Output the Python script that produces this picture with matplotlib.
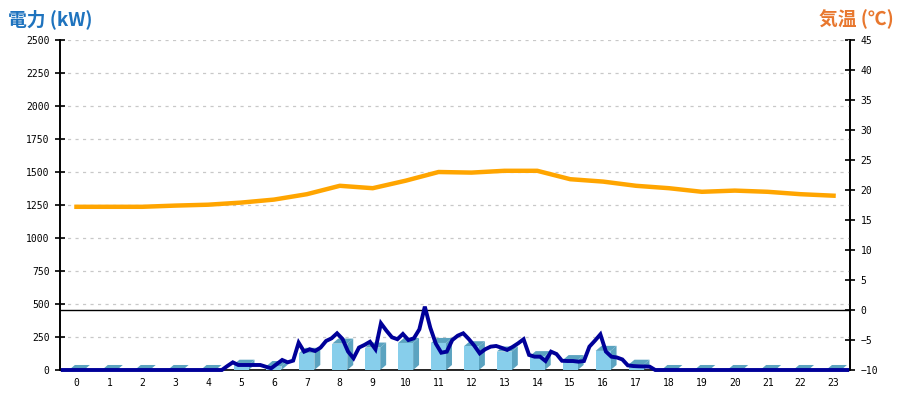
import matplotlib
matplotlib.use("Agg")
import matplotlib.pyplot as plt
from matplotlib.patches import Polygon, Rectangle

plt.rcParams['font.family'] = ['DejaVu Sans Mono', 'Noto Sans CJK JP']

hours = [str(h) for h in range(24)]

# hourly bar values (kW)
bar_kw = [0, 0, 0, 0, 0, 40, 30, 130, 200, 170, 205, 205,
          180, 140, 105, 75, 145, 40, 0, 0, 0, 0, 0, 0]

# hourly temperature (deg C)
temp_c = [17.2, 17.2, 17.2, 17.4, 17.55, 17.9, 18.4, 19.3, 20.7, 20.3, 21.55, 23.0,
          22.9, 23.2, 23.2, 21.8, 21.4, 20.7, 20.3, 19.7, 19.9, 19.7, 19.3, 19.05]

# 10-minute power (kW), 144 points
power_kw = [0] * 30 + [
    30, 58, 38, 38, 38, 38, 38, 25, 13, 45, 76, 58,
    71, 207, 139, 157, 144, 170, 220, 240, 278, 235, 140, 89,
    170, 190, 214, 157, 354, 298, 248, 233, 273, 227, 240, 308,
    480, 320, 200, 131, 139, 227, 260, 278, 235, 185, 126, 157,
    177, 182, 168, 152, 175, 202, 233, 114, 101, 101, 68, 139,
    121, 70, 68, 68, 63, 68, 177, 222, 270, 140, 101, 95,
    80, 35, 30, 28, 27, 25] + [0] * 36

left_ticks = list(range(0, 2501, 250))
right_ticks = list(range(-10, 46, 5))

fig = plt.figure(figsize=(9, 4), dpi=100)
ax2 = fig.add_axes([60 / 900, 30 / 400, 790 / 900, 330 / 400])
ax = fig.add_axes([60 / 900, 30 / 400, 790 / 900, 330 / 400], sharex=ax2)
ax.patch.set_visible(False)

n = len(hours)
ax.set_xlim(-0.5, n - 0.5)
ax.set_ylim(0, 2500)
ax2.set_ylim(-10, 45)
ax2.yaxis.tick_right()

# grid
for t in left_ticks[1:]:
    ax.axhline(t, color='#c8c8c8', lw=0.9, ls=(0, (2.5, 3.5)), zorder=0)

# 3D bars
w = 0.456
dx = 0.18
dy = 38
front_c = '#87CEEB'
side_c = '#5BA3C0'
for i, v in enumerate(bar_kw):
    x0, x1 = i - w / 2, i + w / 2
    ax.add_patch(Polygon([(x1, 0), (x1 + dx, dy), (x1 + dx, v + dy), (x1, v)],
                         closed=True, facecolor=side_c, edgecolor='none', zorder=2))
    ax.add_patch(Polygon([(x0, v), (x0 + dx, v + dy), (x1 + dx, v + dy), (x1, v)],
                         closed=True, facecolor=side_c, edgecolor='none', zorder=2))
    if v > 0:
        ax.add_patch(Rectangle((x0, 0), w, v, facecolor=front_c, edgecolor='none', zorder=2))

# 0 deg C reference line
ax2.axhline(0, color='black', lw=1.0, zorder=3)

# power line (10 min)
px = [(j + 0.5) / 6 - 0.5 for j in range(len(power_kw))]
ax.plot(px, power_kw, color='#000099', lw=2.8, zorder=4, solid_joinstyle='miter', clip_on=False)

# temperature line (right-axis scale)
ax.plot(range(n), temp_c, color='#FFA500', lw=3.2, zorder=5, transform=ax2.transData)

# axes styling
for a in (ax, ax2):
    a.spines['top'].set_visible(False)
    for s in ('left', 'right', 'bottom'):
        a.spines[s].set_color('black')
        a.spines[s].set_linewidth(1.2)
ax.spines['bottom'].set_zorder(1)
ax2.spines['bottom'].set_visible(False)

ax.set_yticks(left_ticks)
ax.set_yticklabels([str(t) for t in left_ticks])
ax.tick_params(axis='y', direction='inout', length=7, width=1.2, labelsize=7, pad=4, colors='black')
ax2.set_yticks(right_ticks)
ax2.set_yticklabels([('\u2212' + str(-t)) if t < 0 else str(t) for t in right_ticks])
ax2.tick_params(axis='y', direction='inout', length=7, width=1.2, labelsize=7, pad=4, colors='black',
                left=False, labelleft=False, right=True, labelright=True)
ax2.tick_params(axis='x', bottom=False, labelbottom=False)
ax.set_xticks(range(n))
ax.set_xticklabels(hours)
ax.tick_params(axis='x', length=0, labelsize=7, pad=6)

fig.text(8 / 900, 1 - 19 / 400, '電力 (kW)', color='#1E73BE', fontsize=13.5, fontweight='bold',
         family=['Noto Sans CJK JP', 'DejaVu Sans'], va='center', ha='left')
fig.text(894 / 900, 1 - 19 / 400, '気温 (℃)', color='#E8772E', fontsize=13.5, fontweight='bold',
         family=['Noto Sans CJK JP', 'DejaVu Sans'], va='center', ha='right')

fig.savefig('out.png', dpi=100)
